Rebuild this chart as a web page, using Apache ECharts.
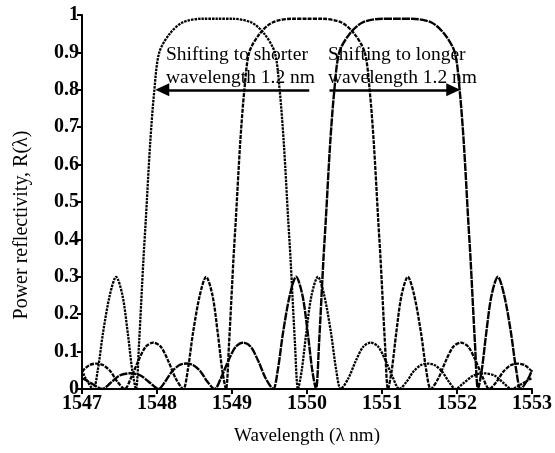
<!DOCTYPE html>
<html>
<head>
<meta charset="utf-8">
<script src="https://cdn.jsdelivr.net/npm/echarts@6/dist/echarts.min.js"></script>
<style>
html,body{margin:0;padding:0;background:#fff;}
#chart{width:555px;height:453px;}
</style>
</head>
<body>
<div id="chart"></div>
<script>
// Wavelength ticks
const xTicks = [1547, 1548, 1549, 1550, 1551, 1552, 1553];
const yTicks = [0, 0.1, 0.2, 0.3, 0.4, 0.5, 0.6, 0.7, 0.8, 0.9, 1];

// Grating 1 (shifted to shorter wavelength)
const wl1 = [1547.0,1547.05,1547.15,1547.21,1547.28,1547.37,1547.455,1547.54,1547.61,1547.67,1547.72,1547.76,1547.82,1547.85,1547.91,1547.965,1548.03,1548.17,1548.34,1548.6,1548.8,1549.0,1549.26,1549.43,1549.57,1549.635,1549.69,1549.75,1549.78,1549.84,1549.88,1549.93,1549.99,1550.06,1550.145,1550.23,1550.32,1550.39,1550.45,1550.55,1550.65,1550.75,1550.85,1550.95,1551.05,1551.15,1551.23,1551.33,1551.42,1551.52,1551.61,1551.70,1551.80,1551.89,1551.98,1552.09,1552.22,1552.36,1552.50,1552.62,1552.73,1552.85,1552.97,1553.0];
const r1  = [0.05,0.028,0,0.05,0.15,0.25,0.30,0.25,0.15,0.05,0,0.12,0.35,0.45,0.66,0.80,0.90,0.95,0.98,0.99,0.99,0.99,0.98,0.95,0.90,0.80,0.66,0.45,0.35,0.12,0,0.05,0.15,0.25,0.30,0.25,0.15,0.05,0,0.028,0.075,0.113,0.124,0.113,0.075,0.028,0,0.02,0.047,0.064,0.068,0.064,0.047,0.02,0,0.016,0.036,0.042,0.036,0.016,0,0.012,0.026,0.028];

// Grating 2 (original, centred at 1550 nm)
const wl2 = [1547.0,1547.10,1547.19,1547.28,1547.38,1547.47,1547.57,1547.65,1547.75,1547.85,1547.95,1548.05,1548.15,1548.25,1548.35,1548.41,1548.48,1548.57,1548.655,1548.74,1548.81,1548.87,1548.92,1548.96,1549.02,1549.05,1549.11,1549.165,1549.23,1549.37,1549.54,1549.8,1550.0,1550.2,1550.46,1550.63,1550.77,1550.835,1550.89,1550.95,1550.98,1551.04,1551.08,1551.13,1551.19,1551.26,1551.345,1551.43,1551.52,1551.59,1551.65,1551.75,1551.85,1551.95,1552.05,1552.15,1552.25,1552.35,1552.43,1552.53,1552.62,1552.72,1552.81,1552.90,1553.0];
const r2  = [0.047,0.064,0.068,0.064,0.047,0.02,0,0.028,0.075,0.113,0.124,0.113,0.075,0.028,0,0.05,0.15,0.25,0.30,0.25,0.15,0.05,0,0.12,0.35,0.45,0.66,0.80,0.90,0.95,0.98,0.99,0.99,0.99,0.98,0.95,0.90,0.80,0.66,0.45,0.35,0.12,0,0.05,0.15,0.25,0.30,0.25,0.15,0.05,0,0.028,0.075,0.113,0.124,0.113,0.075,0.028,0,0.02,0.047,0.064,0.068,0.064,0.047];

// Grating 3 (shifted to longer wavelength)
const wl3 = [1547.0,1547.03,1547.15,1547.27,1547.38,1547.50,1547.64,1547.78,1547.91,1548.02,1548.11,1548.20,1548.30,1548.39,1548.48,1548.58,1548.67,1548.77,1548.85,1548.95,1549.05,1549.15,1549.25,1549.35,1549.45,1549.55,1549.61,1549.68,1549.77,1549.855,1549.94,1550.01,1550.07,1550.12,1550.16,1550.22,1550.25,1550.31,1550.365,1550.43,1550.57,1550.74,1551.0,1551.2,1551.4,1551.66,1551.83,1551.97,1552.035,1552.09,1552.15,1552.18,1552.24,1552.28,1552.33,1552.39,1552.46,1552.545,1552.63,1552.72,1552.79,1552.85,1552.95,1553.0];
const r3  = [0.028,0.026,0.012,0,0.016,0.036,0.042,0.036,0.016,0,0.02,0.047,0.064,0.068,0.064,0.047,0.02,0,0.028,0.075,0.113,0.124,0.113,0.075,0.028,0,0.05,0.15,0.25,0.30,0.25,0.15,0.05,0,0.12,0.35,0.45,0.66,0.80,0.90,0.95,0.98,0.99,0.99,0.99,0.98,0.95,0.90,0.80,0.66,0.45,0.35,0.12,0,0.05,0.15,0.25,0.30,0.25,0.15,0.05,0,0.028,0.05];

// Arrows (level, start, end) in data units
const arrowLevel = 0.8;
const arrowLeft = [1550.03, 1548.07];
const arrowRight = [1550.30, 1551.95];

const zip = (a, b) => a.map((v, i) => [v, b[i]]);
const serif = '"Liberation Serif","DejaVu Serif",serif';

const chart = echarts.init(document.getElementById('chart'), null, {renderer: 'canvas'});

const baseSeries = (data, dash, width) => ({
  type: 'line',
  data: data,
  smooth: 0.3,
  showSymbol: false,
  symbol: 'none',
  clip: true,
  lineStyle: {color: '#000', width: width, type: dash},
  z: 3
});

const s1 = baseSeries(zip(wl1, r1), [2.5, 1], 2.3);
const s2 = baseSeries(zip(wl2, r2), [4, 1.2], 2.3);
const s3 = baseSeries(zip(wl3, r3), [8, 1], 2.4);

s2.markLine = {
  silent: true,
  symbol: ['none', 'triangle'],
  symbolSize: [13, 14],
  lineStyle: {color: '#000', width: 2.5, type: 'solid'},
  label: {show: false},
  data: [
    [{coord: [arrowLeft[0], arrowLevel]}, {coord: [arrowLeft[1], arrowLevel]}],
    [{coord: [arrowRight[0], arrowLevel]}, {coord: [arrowRight[1], arrowLevel]}]
  ]
};

chart.setOption({
  animation: false,
  backgroundColor: '#fff',
  grid: {left: 82, right: 22, top: 15, bottom: 64, containLabel: false},
  xAxis: {
    type: 'value',
    min: xTicks[0], max: xTicks[xTicks.length - 1], interval: 1,
    name: 'Wavelength (\u03bb nm)',
    nameLocation: 'middle', nameGap: 38,
    nameTextStyle: {fontFamily: serif, fontSize: 19, color: '#000'},
    axisLine: {show: true, onZero: false, lineStyle: {color: '#000', width: 2}},
    axisTick: {show: true, length: 5, lineStyle: {color: '#000', width: 2}},
    axisLabel: {fontFamily: serif, fontWeight: 'bold', fontSize: 20, color: '#000', margin: 5,
                formatter: v => String(v)},
    splitLine: {show: false}
  },
  yAxis: {
    type: 'value',
    min: yTicks[0], max: yTicks[yTicks.length - 1], interval: 0.1,
    axisLine: {show: true, lineStyle: {color: '#000', width: 2}},
    axisTick: {show: true, length: 5, lineStyle: {color: '#000', width: 2}},
    axisLabel: {fontFamily: serif, fontWeight: 'bold', fontSize: 20, color: '#000', margin: 3,
                formatter: v => String(Math.round(v * 10) / 10)},
    splitLine: {show: false}
  },
  graphic: [
    {type: 'text', x: 22, y: 225, rotation: Math.PI / 2, z: 10,
     style: {text: 'Power reflectivity, R(\u03bb)', font: '20px ' + serif, fill: '#000',
             textAlign: 'center', textVerticalAlign: 'middle'}},
    {type: 'text', left: 166, top: 43, z: 10,
     style: {text: 'Shifting to shorter\nwavelength 1.2 nm', font: '19.5px ' + serif, fill: '#000', lineHeight: 23}},
    {type: 'text', left: 328, top: 43, z: 10,
     style: {text: 'Shifting to longer\nwavelength 1.2 nm', font: '19.5px ' + serif, fill: '#000', lineHeight: 23}}
  ],
  series: [s1, s2, s3]
});
</script>
</body>
</html>
